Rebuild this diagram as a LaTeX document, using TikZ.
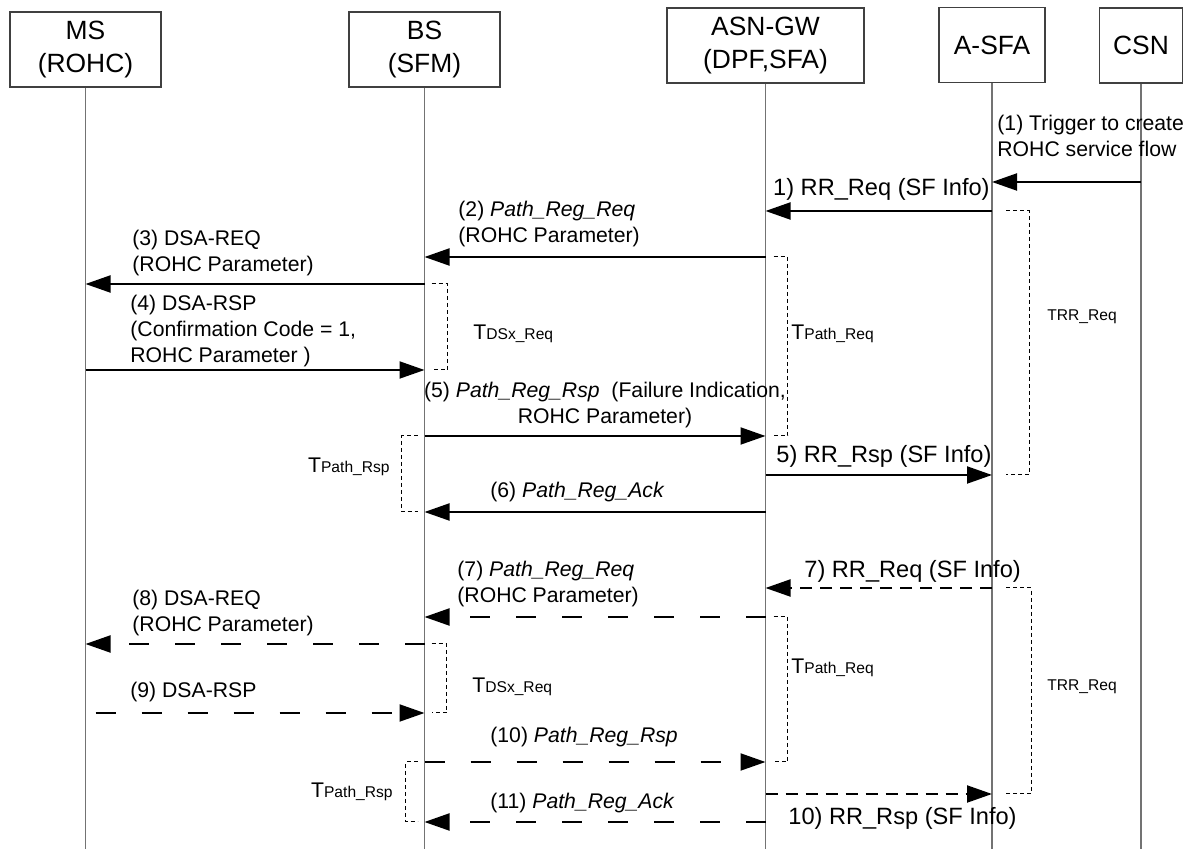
\documentclass[tikz,border=0pt]{standalone}
\usepackage{fontspec}
\setmainfont{Liberation Sans}
\usetikzlibrary{arrows.meta}
\tikzset{
  ent/.style={draw=black!75, line width=0.7pt, minimum height=37.5pt, align=center, inner sep=0pt, font=\fontsize{13.2}{16.5}\selectfont},
  life/.style={draw=black!55, line width=0.7pt},
  msg/.style={line width=1pt, -{Triangle[length=12.5pt, width=8.5pt]}},
  dmsg/.style={msg, dash pattern=on 10pt off 13pt},
  rmsg/.style={msg, dash pattern=on 6pt off 4pt},
  tmr/.style={line width=0.5pt, dash pattern=on 2pt off 1.5pt},
  lbl/.style={inner sep=0pt, align=left, font=\fontsize{10.6}{13}\selectfont},
  rlbl/.style={lbl, font=\fontsize{11.8}{14}\selectfont},
  tlbl/.style={inner sep=0pt, font=\fontsize{10.6}{13}\selectfont},
}
\newcommand{\tmrsub}[1]{{\fontsize{7.8}{9}\selectfont #1}}

\begin{document}
\begin{tikzpicture}[x=0.5pt, y=-0.5pt]
        % \draw[step=100,gray,very thin] (0,0) grid (1185,849);
        \useasboundingbox (0,0) rectangle (1185,849);
        \node[ent, minimum width=75.5pt] (ms) at (85.5,49.5) {MS\\(ROHC)};
        \node[ent, minimum width=75.5pt] (bs) at (424.5,49.5) {BS\\(SFM)};
        \node[ent, minimum width=98.5pt] (gw) at (765.5,45.5) {ASN-GW\\(DPF,SFA)};
        \node[ent, minimum width=53pt] (asfa) at (992,45) {A-SFA};
        \node[ent, minimum width=41.5pt] (csn) at (1141,45.5) {CSN};
        \coordinate (bot) at (0,849);
        \foreach \n in {ms,bs,gw,asfa,csn}
            \draw[life] (\n.south) -- (\n |- bot);
        \foreach \i/\y in {1/182,2/211,3/257,4/284,5/370,6/436,7/475,8/512,9/588,10/617,11/644,12/713,13/762,14/794,15/822}
            \coordinate (t\i) at (0,\y);

        \draw[msg] (csn |- t1) -- (asfa |- t1);
        \draw[msg] (asfa |- t2) -- (gw |- t2);
        \draw[msg] (gw |- t3) -- (bs |- t3);
        \draw[msg] (bs |- t4) -- (ms |- t4);
        \draw[msg] (ms |- t5) -- (bs |- t5);
        \draw[msg] (bs |- t6) -- (gw |- t6);
        \draw[msg] (gw |- t7) -- (asfa |- t7);
        \draw[msg] (gw |- t8) -- (bs |- t8);
        \draw[rmsg] (asfa |- t9) -- (gw |- t9);
        \draw[dmsg] (gw |- t10) -- (bs |- t10);
        \draw[dmsg] (bs |- t11) -- (ms |- t11);
        \draw[dmsg, dash phase=18pt] (ms |- t12) -- (bs |- t12);
        \draw[dmsg] (bs |- t13) -- (gw |- t13);
        \draw[rmsg] (gw |- t14) -- (asfa |- t14);
        \draw[dmsg] (gw |- t15) -- (bs |- t15);

        \node[lbl, anchor=west] (m1) at (997,135.5) {(1) Trigger to create\\ROHC service flow};
        \node[rlbl, anchor=east] (m2) at (990,189) {1) RR\_Req (SF Info)};
        \node[lbl, anchor=west] (m3) at (458,224) {(2) \textit{Path\_Reg\_Req}\\(ROHC Parameter)};
        \node[lbl, anchor=west] (m4) at (132,253.5) {(3) DSA-REQ\\(ROHC Parameter)};
        \node[lbl, anchor=west] (m5) at (130,331) {(4) DSA-RSP\\(Confirmation Code = 1,\\ROHC Parameter )};
        \node[lbl, align=center] (m6) at (605,405.5) {(5) \textit{Path\_Reg\_Rsp}~ (Failure Indication,\\ROHC Parameter)};
        \node[rlbl, anchor=west] (m7) at (776,456) {5) RR\_Rsp (SF Info)};
        \node[lbl, anchor=west] (m8) at (490,492) {(6) \textit{Path\_Reg\_Ack}};
        \node[rlbl, anchor=west] (m9) at (804,571) {7) RR\_Req (SF Info)};
        \node[lbl, anchor=west] (m10) at (457,584.5) {(7) \textit{Path\_Reg\_Req}\\(ROHC Parameter)};
        \node[lbl, anchor=west] (m11) at (132,613.5) {(8) DSA-REQ\\(ROHC Parameter)};
        \node[lbl, anchor=west] (m12) at (130,692) {(9) DSA-RSP};
        \node[lbl, anchor=west] (m13) at (490,737) {(10) \textit{Path\_Reg\_Rsp}};
        \node[rlbl, anchor=west] (m14) at (788,818) {10) RR\_Rsp (SF Info)};
        \node[lbl, anchor=west] (m15) at (490,803) {(11) \textit{Path\_Reg\_Ack}};

        \draw[tmr] ([xshift=3.5pt]bs |- t4) -- ++(16,0) |- ([xshift=3.5pt]bs |- t5);
        \draw[tmr] ([xshift=4pt]gw |- t3) -- ++(14,0) |- ([xshift=4pt]gw |- t6);
        \draw[tmr] ([xshift=7pt]asfa |- t2) -- ++(23,0) |- ([xshift=7pt]asfa |- t7);
        \draw[tmr] ([xshift=-3.5pt]bs |- t6) -- ++(-16,0) |- ([xshift=-3.5pt]bs |- t8);
        \draw[tmr] ([xshift=3.5pt]bs |- t11) -- ++(15,0) |- ([xshift=3.5pt]bs |- t12);
        \draw[tmr] ([xshift=4pt]gw |- t10) -- ++(14,0) |- ([xshift=4pt]gw |- t13);
        \draw[tmr] ([xshift=7pt]asfa |- t9) -- ++(25,0) |- ([xshift=7pt]asfa |- t14);
        \draw[tmr] ([xshift=-3.5pt]bs |- t13) -- ++(-12,0) |- ([xshift=-3.5pt]bs |- t15);

        \node[tlbl, anchor=west] (td1) at (473,334) {T\tmrsub{DSx\_Req}};
        \node[tlbl, anchor=west] (tp1) at (791,334) {T\tmrsub{Path\_Req}};
        \node[tlbl, anchor=west] (tr1) at (1047,317) {\tmrsub{TRR\_Req}};
        \node[tlbl, anchor=east] (ts1) at (390,467) {T\tmrsub{Path\_Rsp}};
        \node[tlbl, anchor=west] (td2) at (472,687) {T\tmrsub{DSx\_Req}};
        \node[tlbl, anchor=west] (tp2) at (791,668) {T\tmrsub{Path\_Req}};
        \node[tlbl, anchor=west] (tr2) at (1047,687) {\tmrsub{TRR\_Req}};
        \node[tlbl, anchor=east] (ts2) at (393,792) {T\tmrsub{Path\_Rsp}};
    \end{tikzpicture}
\end{document}
